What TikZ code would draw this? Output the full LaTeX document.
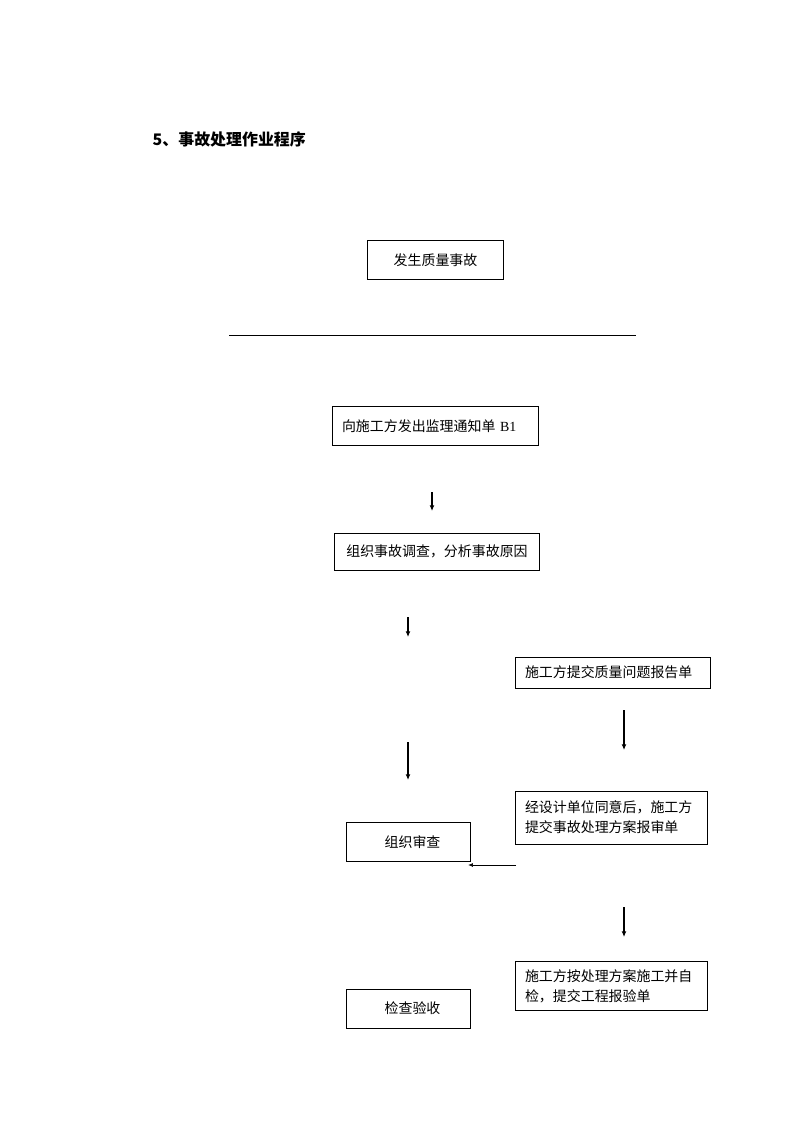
\documentclass[tikz,border=0pt]{standalone}
\usepackage{fontspec}
\setmainfont{Noto Sans CJK SC}
\newfontfamily\latserif{Liberation Serif}
\usepackage{xcolor}
\usetikzlibrary{arrows.meta,positioning}

\begin{document}
\begin{tikzpicture}[x=0.2646mm, y=-0.2646mm,
    box/.style={draw, line width=0.7pt, inner sep=0pt, font=\fontsize{10.5pt}{15pt}\selectfont},
    lbox/.style={box, inner xsep=2.65mm, align=left},
    flow/.style={-{Latex[length=1.5mm,width=1.3mm]}, line width=1pt},
    thinflow/.style={-{Latex[length=1.3mm,width=1mm]}, line width=0.5pt}]
    \useasboundingbox (0,0) rectangle (794,1123);

    \node[anchor=west, font=\fontsize{12pt}{14pt}\selectfont\bfseries] (title) at (148,139) {5、事故处理作业程序};

    \node[box, minimum width=36.2mm, minimum height=10.1mm] (occur) at (435.5,260) {发生质量事故};
    \draw[line width=0.6pt] (229,335) coordinate (rulel) -- (636,335) coordinate (ruler);

    \node[lbox, text width=49.2mm, minimum height=10.1mm] (notice) at (435,426) {向施工方发出监理通知单 {\latserif B1}};
    \node[box, minimum width=54.0mm, minimum height=9.8mm] (survey) at (437,551.5) {组织事故调查，分析事故原因};
    \node[lbox, text width=46.3mm, minimum height=8.2mm] (report) at (612.5,672.5) {施工方提交质量问题报告单};
    \node[lbox, text width=45.5mm, minimum height=14.0mm] (plan) at (611,817.5) {经设计单位同意后，施工方\\提交事故处理方案报审单};
    \node[box, minimum width=32.8mm, minimum height=10.1mm] (review) at (408,842) {\hspace{2.4mm}组织审查};
    \node[lbox, text width=45.5mm, minimum height=13.2mm] (construct) at (611,986) {施工方按处理方案施工并自\\检，提交工程报验单};
    \node[box, minimum width=32.8mm, minimum height=10.3mm] (accept) at (408,1008.5) {\hspace{2.4mm}检查验收};

    \coordinate (a1s) at (432,492);  \coordinate (a1e) at (432,511);
    \coordinate (a2s) at (408,617);  \coordinate (a2e) at (408,637);
    \coordinate (a3s) at (624,710);  \coordinate (a3e) at (624,750);
    \coordinate (a4s) at (408,742);  \coordinate (a4e) at (408,780);
    \coordinate (a5s) at (516,865);  \coordinate (a5e) at (468,865);
    \coordinate (a6s) at (624,907);  \coordinate (a6e) at (624,937);

    \draw[flow] (a1s) -- (a1e);
    \draw[flow] (a2s) -- (a2e);
    \draw[flow] (a3s) -- (a3e);
    \draw[flow] (a4s) -- (a4e);
    \draw[thinflow] (a5s) -- (a5e);
    \draw[flow] (a6s) -- (a6e);
\end{tikzpicture}
\end{document}
